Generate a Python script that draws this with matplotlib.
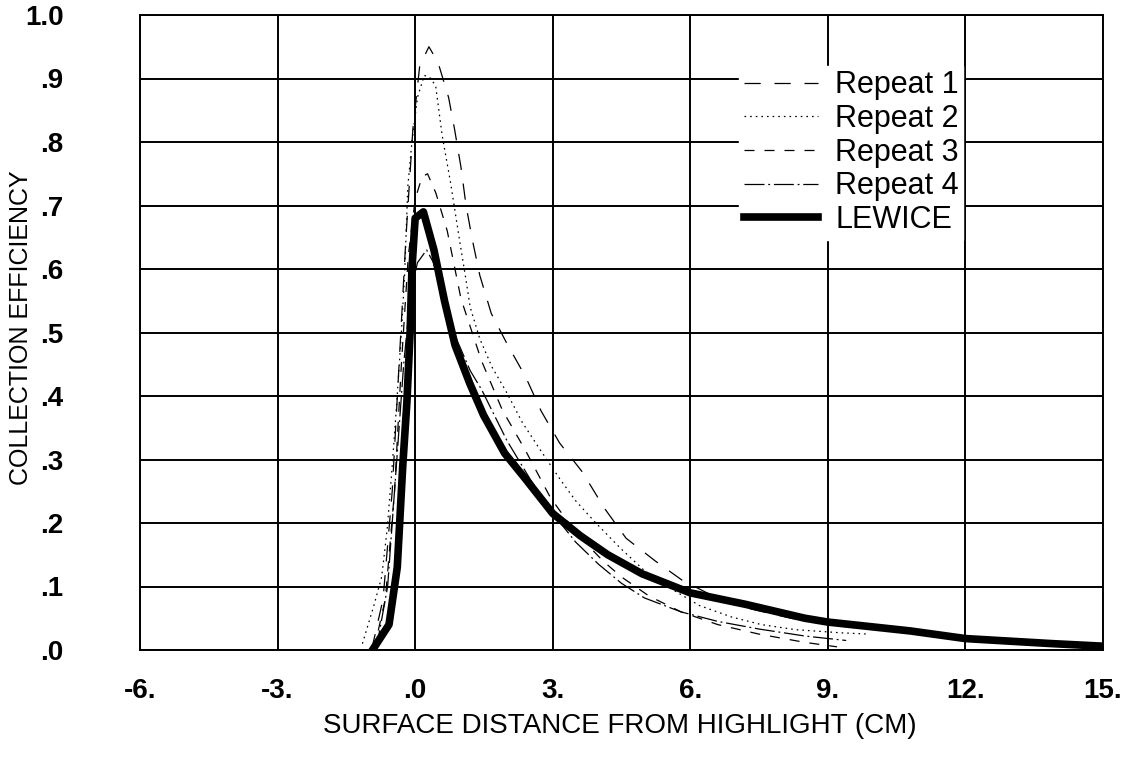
import matplotlib
matplotlib.use("Agg")
import matplotlib.pyplot as plt

plt.rcParams["font.family"] = ["Liberation Sans", "DejaVu Sans"]

# LEWICE prediction
lew_x = [-0.93, -0.57, -0.39, -0.27, -0.18, -0.11, -0.07, 0.0, 0.18, 0.41, 0.64, 0.87,
         1.19, 1.49, 1.95, 2.40, 3.0, 3.6, 4.2, 4.95, 6.0, 7.2, 8.5, 9.0, 10.8, 12.0, 13.9, 15.0]
lew_y = [0.0, 0.04, 0.13, 0.29, 0.39, 0.50, 0.60, 0.68, 0.69, 0.63, 0.55, 0.48,
         0.42, 0.37, 0.31, 0.27, 0.215, 0.18, 0.15, 0.12, 0.09, 0.072, 0.05, 0.044, 0.03, 0.018, 0.01, 0.006]

# experimental repeats
r1_x = [-0.95, -0.7, -0.5, -0.35, -0.2, -0.05, 0.1, 0.3, 0.5, 0.73, 0.86, 1.0, 1.11, 1.25, 1.41,
        1.66, 2.02, 2.41, 2.75, 3.15, 3.65, 4.12, 4.6, 5.24, 5.82, 6.5, 7.3, 8.2, 9.0, 9.6]
r1_y = [0.0, 0.08, 0.25, 0.45, 0.65, 0.82, 0.92, 0.95, 0.925, 0.87, 0.82, 0.76, 0.70, 0.645, 0.59,
        0.53, 0.48, 0.43, 0.376, 0.326, 0.28, 0.224, 0.176, 0.14, 0.11, 0.085, 0.065, 0.05, 0.04, 0.035]

r2_x = [-1.15, -0.9, -0.73, -0.61, -0.5, -0.41, -0.3, -0.23, -0.16, -0.07, 0.05, 0.2, 0.35, 0.45,
        0.59, 0.77, 0.98, 1.1, 1.2, 1.41, 1.68, 2.0, 2.34, 2.73, 3.13, 3.5, 3.94, 4.48, 5.0, 5.5,
        6.2, 6.9, 7.55, 8.3, 9.3, 9.9]
r2_y = [0.01, 0.07, 0.115, 0.19, 0.29, 0.38, 0.5, 0.59, 0.73, 0.8, 0.87, 0.905, 0.9, 0.887,
        0.81, 0.737, 0.64, 0.587, 0.54, 0.49, 0.445, 0.405, 0.358, 0.315, 0.272, 0.235, 0.2, 0.16, 0.125, 0.1,
        0.07, 0.052, 0.04, 0.032, 0.027, 0.025]

r3_x = [-0.9, -0.65, -0.45, -0.3, -0.15, 0.0, 0.15, 0.27, 0.45, 0.7, 1.0, 1.45, 1.9, 2.4, 2.95,
        3.5, 4.1, 4.5, 5.1, 5.8, 6.6, 7.5, 8.5, 9.2]
r3_y = [0.0, 0.08, 0.25, 0.45, 0.62, 0.71, 0.745, 0.75, 0.72, 0.66, 0.553, 0.455, 0.378, 0.315, 0.24,
        0.185, 0.14, 0.115, 0.085, 0.06, 0.04, 0.025, 0.012, 0.005]

r4_x = [-0.85, -0.6, -0.4, -0.25, -0.1, 0.05, 0.25, 0.4, 0.6, 0.9, 1.2, 1.45, 2.0, 2.5, 3.0,
        3.5, 4.0, 4.5, 5.0, 5.8, 6.6, 7.5, 8.5, 9.4]
r4_y = [0.0, 0.1, 0.3, 0.45, 0.56, 0.61, 0.63, 0.61, 0.56, 0.49, 0.44, 0.41, 0.33, 0.27, 0.215,
        0.17, 0.135, 0.105, 0.082, 0.06, 0.045, 0.033, 0.022, 0.015]

x_ticks = [-6, -3, 0, 3, 6, 9, 12, 15]
x_tick_labels = ["-6.", "-3.", ".0", "3.", "6.", "9.", "12.", "15."]
y_ticks = [0.0, 0.1, 0.2, 0.3, 0.4, 0.5, 0.6, 0.7, 0.8, 0.9, 1.0]
y_tick_labels = [".0", ".1", ".2", ".3", ".4", ".5", ".6", ".7", ".8", ".9", "1.0"]

fig = plt.figure(figsize=(11.4, 7.57), dpi=100)
ax = fig.add_axes([140 / 1140, 1 - 650 / 757, 963 / 1140, 635 / 757])

ax.plot(r1_x, r1_y, color="black", lw=0.9, dashes=(13, 11), label="Repeat 1")
ax.plot(r2_x, r2_y, color="black", lw=0.9, dashes=(1.3, 3.2), label="Repeat 2")
ax.plot(r3_x, r3_y, color="black", lw=0.9, dashes=(8, 8), label="Repeat 3")
ax.plot(r4_x, r4_y, color="black", lw=0.9, dashes=(16, 3, 1.5, 3), label="Repeat 4")
ax.plot(lew_x, lew_y, color="black", lw=5.5, solid_joinstyle="round", label="LEWICE")

ax.set_xlim(-6, 15)
ax.set_ylim(0, 1.0)
ax.set_xticks(x_ticks)
ax.set_xticklabels(x_tick_labels)
ax.set_yticks(y_ticks)
ax.set_yticklabels(y_tick_labels)
ax.tick_params(length=0, labelsize=20)
ax.tick_params(axis="x", pad=20)
ax.tick_params(axis="y", pad=55)
for lbl in ax.get_xticklabels() + ax.get_yticklabels():
    lbl.set_fontweight("bold")
ax.grid(True, color="black", lw=1.4)
ax.set_axisbelow(True)
for s in ax.spines.values():
    s.set_linewidth(1.4)

ax.set_xlabel("SURFACE DISTANCE FROM HIGHLIGHT (CM)", fontsize=20)
ax.set_ylabel("COLLECTION EFFICIENCY", fontsize=18)
ax.xaxis.set_label_coords(0.498, -0.099)
ax.yaxis.set_label_coords(-0.111, 0.507)

leg = ax.legend(loc="upper left", bbox_to_anchor=(0.622, 0.92), fontsize=22,
                handlelength=2.45, labelspacing=0.12, handletextpad=0.55,
                borderpad=0.15, borderaxespad=0, frameon=True, fancybox=False)
leg.get_frame().set_facecolor("white")
leg.get_frame().set_edgecolor("white")
leg.get_frame().set_alpha(1)

fig.savefig("out.png", dpi=100)
